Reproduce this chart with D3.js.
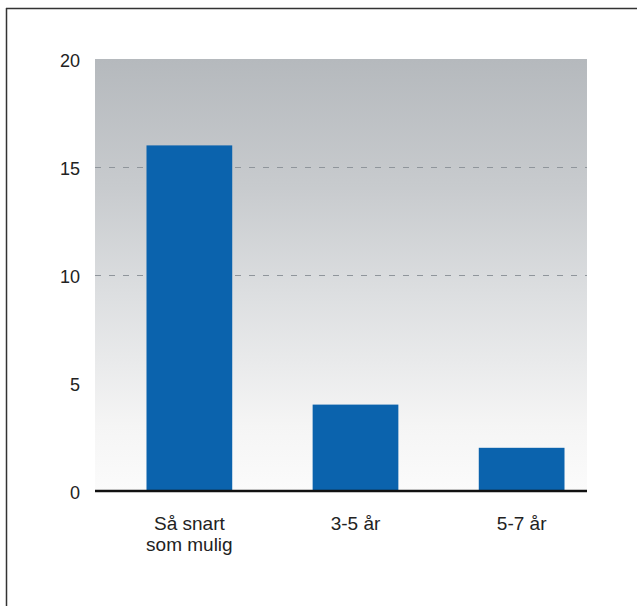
<!DOCTYPE html>
<html>
<head>
<meta charset="utf-8">
<script src="https://cdn.jsdelivr.net/npm/d3@7"></script>
<style>
  html, body { margin: 0; padding: 0; background: #fff; }
  svg { display: block; font-family: "Liberation Sans", Arial, Helvetica, sans-serif; }
</style>
</head>
<body>
<svg id="chart" width="637" height="606"></svg>
<script>
// Answer categories (multi-line labels split on "\n")
const categories = ["Så snart\nsom mulig", "3-5 år", "5-7 år"];
// Number of responses per category
const values = [16, 4, 2];
// Y axis ticks
const yTicks = [0, 5, 10, 15, 20];
const gridTicks = [10, 15];

const svg = d3.select("#chart");

// Outer frame: top and left rule
svg.append("line").attr("x1", 6).attr("y1", 8.5).attr("x2", 637).attr("y2", 8.5)
  .attr("stroke", "#333").attr("stroke-width", 1.5);
svg.append("line").attr("x1", 6.5).attr("y1", 8).attr("x2", 6.5).attr("y2", 606)
  .attr("stroke", "#333").attr("stroke-width", 1.5);

const plot = { left: 95, right: 587, top: 59, bottom: 491 };

const y = d3.scaleLinear().domain([0, 20]).range([plot.bottom, plot.top]);
const x = d3.scaleBand().domain(categories)
  .range([146.5, 564.5]).paddingInner(0.484).paddingOuter(0);

// Background gradient of the plot area
const defs = svg.append("defs");
const grad = defs.append("linearGradient").attr("id", "bg")
  .attr("x1", 0).attr("y1", 0).attr("x2", 0).attr("y2", 1);
grad.append("stop").attr("offset", "0%").attr("stop-color", "#b5b9bd");
grad.append("stop").attr("offset", "30%").attr("stop-color", "#c8cbce");
grad.append("stop").attr("offset", "55%").attr("stop-color", "#dddfe1");
grad.append("stop").attr("offset", "85%").attr("stop-color", "#f5f5f5");
grad.append("stop").attr("offset", "100%").attr("stop-color", "#fbfbfb");

svg.append("rect")
  .attr("x", plot.left).attr("y", plot.top)
  .attr("width", plot.right - plot.left).attr("height", plot.bottom - plot.top)
  .attr("fill", "url(#bg)");

// Dashed grid lines
svg.append("g").selectAll("line").data(gridTicks).join("line")
  .attr("x1", plot.left).attr("x2", plot.right)
  .attr("y1", d => Math.round(y(d)) + 0.5).attr("y2", d => Math.round(y(d)) + 0.5)
  .attr("stroke", "#8f959b").attr("stroke-width", 1)
  .attr("stroke-dasharray", "6,8");

// Bars
svg.append("g").selectAll("rect").data(values).join("rect")
  .attr("x", (d, i) => x(categories[i]))
  .attr("y", d => y(d))
  .attr("width", x.bandwidth())
  .attr("height", d => y(0) - y(d))
  .attr("fill", "#0b63ad");

// Baseline
svg.append("line")
  .attr("x1", plot.left).attr("x2", plot.right)
  .attr("y1", y(0)).attr("y2", y(0))
  .attr("stroke", "#111").attr("stroke-width", 2.5);

// Y axis labels
const yAxis = d3.axisLeft(y).tickValues(yTicks).tickSize(0).tickPadding(0);
const gy = svg.append("g").attr("transform", "translate(80,0)").call(yAxis);
gy.select(".domain").remove();
gy.selectAll("text")
  .attr("font-size", 18).attr("fill", "#222")
  .attr("font-family", "'Liberation Sans', Arial, sans-serif")
  .attr("dy", "0.4em");

// X axis labels
const xAxis = d3.axisBottom(x).tickSize(0).tickFormat("");
const gx = svg.append("g").attr("transform", `translate(0,${y(0)})`).call(xAxis);
gx.select(".domain").remove();
gx.selectAll(".tick").each(function(d) {
  const lines = d.split("\n");
  const t = d3.select(this).append("text")
    .attr("text-anchor", "middle")
    .attr("font-size", 19).attr("fill", "#222")
    .attr("font-family", "'Liberation Sans', Arial, sans-serif");
  lines.forEach((ln, i) => {
    t.append("tspan").attr("x", 0).attr("y", 39 + i * 21).text(ln);
  });
});
</script>
</body>
</html>
